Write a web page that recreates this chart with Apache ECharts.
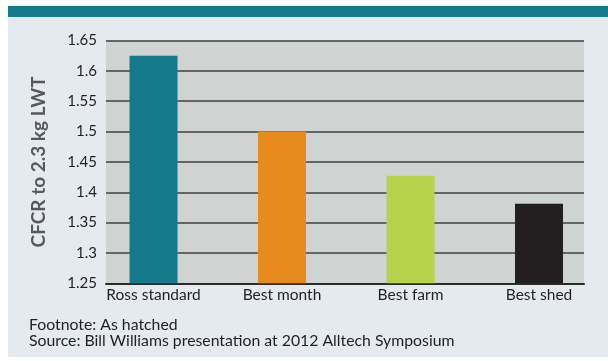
<!DOCTYPE html>
<html>
<head>
<meta charset="utf-8">
<script src="https://cdn.jsdelivr.net/npm/echarts@6/dist/echarts.min.js"></script>
<style>
  html, body { margin: 0; padding: 0; background: #ffffff; }
  #wrap { position: relative; width: 608px; height: 361px; overflow: hidden; }
  #band { position: absolute; left: 8px; top: 6px; width: 600px; height: 11px; background: #147a8c; }
  #panel { position: absolute; left: 8px; top: 17px; width: 600px; height: 340px; background: #e5eaee; }
  #chart { position: absolute; left: 0; top: 0; width: 608px; height: 361px; }
</style>
</head>
<body>
<div id="wrap">
  <div id="band"></div>
  <div id="panel"></div>
  <div id="chart"></div>
</div>
<script>
// CFCR by flock group
const categories = ['Ross standard', 'Best month', 'Best farm', 'Best shed'];
const cfcrValues = [1.625, 1.5, 1.427, 1.381];
const barColors = ['#147a8c', '#e88b1e', '#b5d24b', '#231f20'];
const yAxisTitle = 'CFCR to 2.3 kg LWT';
const footLines = ['Footnote: As hatched', 'Source: Bill Williams presentation at 2012 Alltech Symposium'];
const yMin = 1.25, yMax = 1.65, yStep = 0.05;

const FONT = 'Lato, "Noto Sans", sans-serif';
const TEXT = '#231f20';

const chart = echarts.init(document.getElementById('chart'), null, { renderer: 'canvas' });

chart.setOption({
  backgroundColor: 'transparent',
  animation: false,
  grid: [
    // plot panel with horizontal rules
    { left: 106, right: 24, top: 40.5, bottom: 77.7, show: true, backgroundColor: '#cfd3d2', borderWidth: 0 },
    // category band for the bars
    { left: 89.25, right: 4.75, top: 40.5, bottom: 77.7 }
  ],
  xAxis: [
    {
      gridIndex: 0, type: 'value', min: 0, max: 1,
      axisLabel: { show: false }, axisTick: { show: false }, splitLine: { show: false },
      axisLine: { show: true, lineStyle: { color: '#2b2b2b', width: 2 } }
    },
    {
      gridIndex: 1, type: 'category', data: categories,
      axisLine: { show: false }, axisTick: { show: false },
      axisLabel: { color: TEXT, fontFamily: FONT, fontSize: 15.5, margin: 4, interval: 0 }
    }
  ],
  yAxis: [
    {
      gridIndex: 0, type: 'value', min: yMin, max: yMax, interval: yStep,
      name: yAxisTitle, nameLocation: 'middle', nameGap: 58, nameRotate: 90,
      nameTextStyle: { color: '#58595b', fontFamily: FONT, fontSize: 19, fontWeight: 'bold' },
      axisLine: { show: false }, axisTick: { show: false },
      axisLabel: {
        color: TEXT, fontFamily: FONT, fontSize: 15, margin: 9,
        formatter: v => String(parseFloat(v.toFixed(2)))
      },
      splitLine: { show: true, lineStyle: { color: '#404040', width: 1.5 } }
    },
    {
      gridIndex: 1, type: 'value', min: yMin, max: yMax, interval: yStep,
      axisLine: { show: false }, axisTick: { show: false },
      axisLabel: { show: false }, splitLine: { show: false }
    }
  ],
  series: [{
    type: 'bar',
    xAxisIndex: 1, yAxisIndex: 1,
    barWidth: 48,
    data: cfcrValues.map((v, i) => ({ value: v, itemStyle: { color: barColors[i] } }))
  }],
  graphic: footLines.map((t, i) => ({
    type: 'text', left: 29, top: 316.5 + i * 16.5,
    style: { text: t, fill: TEXT, font: '15.8px ' + FONT }
  }))
});
</script>
</body>
</html>
